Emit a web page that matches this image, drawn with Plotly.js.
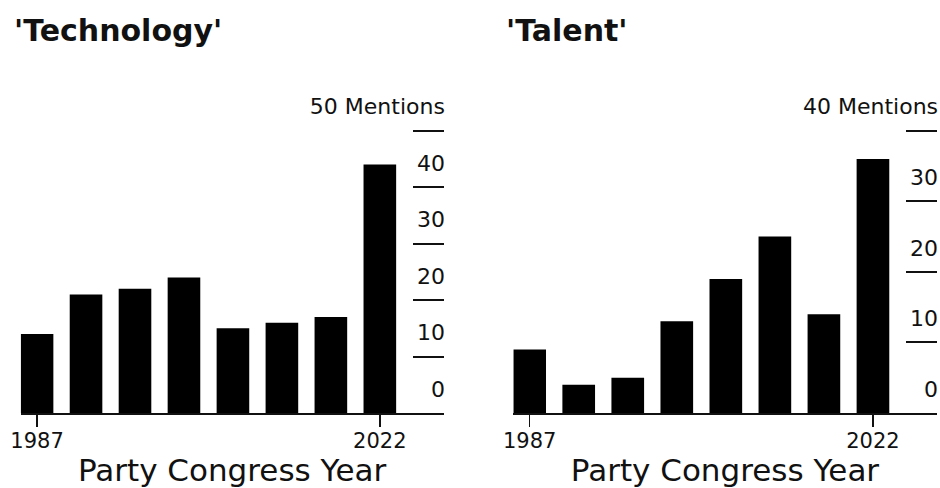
<!DOCTYPE html>
<html>
<head>
<meta charset="utf-8">
<script src="https://cdn.plot.ly/plotly-3.0.1.min.js"></script>
<style>
  html, body { margin: 0; padding: 0; background: #fff; }
  #chart { width: 940px; height: 488px; }
</style>
</head>
<body>
<div id="chart"></div>
<script>
// ---- data ----
const years = [1987, 1992, 1997, 2002, 2007, 2012, 2017, 2022];
const technologyMentions = [14, 21, 22, 24, 15, 16, 17, 44];
const talentMentions = [9, 4, 5, 13, 19, 25, 14, 36];
const xTickVals = [1987, 2022];
const xTickText = ['1987', '2022'];
const techTickVals = [0, 10, 20, 30, 40, 50];
const techTickText = ['0', '10', '20', '30', '40', '50 Mentions'];
const talentTickVals = [0, 10, 20, 30, 40];
const talentTickText = ['0', '10', '20', '30', '40 Mentions'];
const panelTitles = ["'Technology'", "'Talent'"];
const xTitle = 'Party Congress Year';

const W = 940, H = 488;
const FONT = 'DejaVu Sans, Liberation Sans, Arial, sans-serif';
const INK = '#111111';

function px2x(p) { return p / W; }
function px2y(p) { return 1 - p / H; }

const BASE_PX = 413, TOP_PX = 130.7;
function yAxis(anchor, topVal, vals, text) {
  const rangeTop = topVal * 1.02;
  const pxPerUnit = (BASE_PX - TOP_PX) / topVal;
  const domTopPx = BASE_PX - rangeTop * pxPerUnit;
  return {
    domain: [px2y(BASE_PX), px2y(domTopPx)],
    anchor: anchor,
    side: 'right',
    range: [0, rangeTop],
    tickmode: 'array',
    tickvals: vals,
    ticktext: text,
    ticks: 'inside',
    ticklen: 31,
    tickwidth: 2,
    tickcolor: INK,
    ticklabelposition: 'inside',
    ticklabelshift: -24,
    ticklabelstandoff: -31,
    ticklabeloverflow: 'allow',
    showline: false,
    showgrid: false,
    zeroline: false,
    tickfont: { family: FONT, size: 22, color: INK },
    fixedrange: true
  };
}

function xAxis(domain) {
  return {
    domain: domain,
    range: [1985.33, 2028.5],
    tickmode: 'array',
    tickvals: xTickVals,
    ticktext: xTickText,
    ticks: 'outside',
    ticklen: 12,
    tickwidth: 1.5,
    tickcolor: INK,
    ticklabelstandoff: -4,
    showline: true,
    linecolor: INK,
    linewidth: 2,
    showgrid: false,
    zeroline: false,
    tickfont: { family: FONT, size: 21, color: INK },
    title: { text: xTitle, font: { family: FONT, size: 31, color: INK } },
    fixedrange: true
  };
}

const traces = [
  { type: 'bar', x: years, y: technologyMentions, width: 3.33, xaxis: 'x', yaxis: 'y',
    marker: { color: '#000000', line: { width: 0 } }, hoverinfo: 'none' },
  { type: 'bar', x: years, y: talentMentions, width: 3.33, xaxis: 'x2', yaxis: 'y2',
    marker: { color: '#000000', line: { width: 0 } }, hoverinfo: 'none' }
];

const layout = {
  width: W, height: H,
  margin: { l: 0, r: 0, t: 0, b: 0, pad: 0 },
  paper_bgcolor: '#ffffff',
  plot_bgcolor: '#ffffff',
  showlegend: false,
  font: { family: FONT, color: INK },
  xaxis: xAxis([px2x(20.7), px2x(443.5)]),
  xaxis2: xAxis([px2x(513.3), px2x(936.7)]),
  yaxis: yAxis('x', 50, techTickVals, techTickText),
  yaxis2: yAxis('x2', 40, talentTickVals, talentTickText),
  annotations: [
    { text: panelTitles[0], xref: 'paper', yref: 'paper', x: px2x(12), y: px2y(31),
      xanchor: 'left', yanchor: 'middle', showarrow: false,
      font: { family: FONT, size: 30, color: INK, weight: 'bold' } },
    { text: panelTitles[1], xref: 'paper', yref: 'paper', x: px2x(504), y: px2y(31),
      xanchor: 'left', yanchor: 'middle', showarrow: false,
      font: { family: FONT, size: 30, color: INK, weight: 'bold' } }
  ]
};

Plotly.newPlot('chart', traces, layout, { displayModeBar: false, staticPlot: true });
</script>
</body>
</html>
